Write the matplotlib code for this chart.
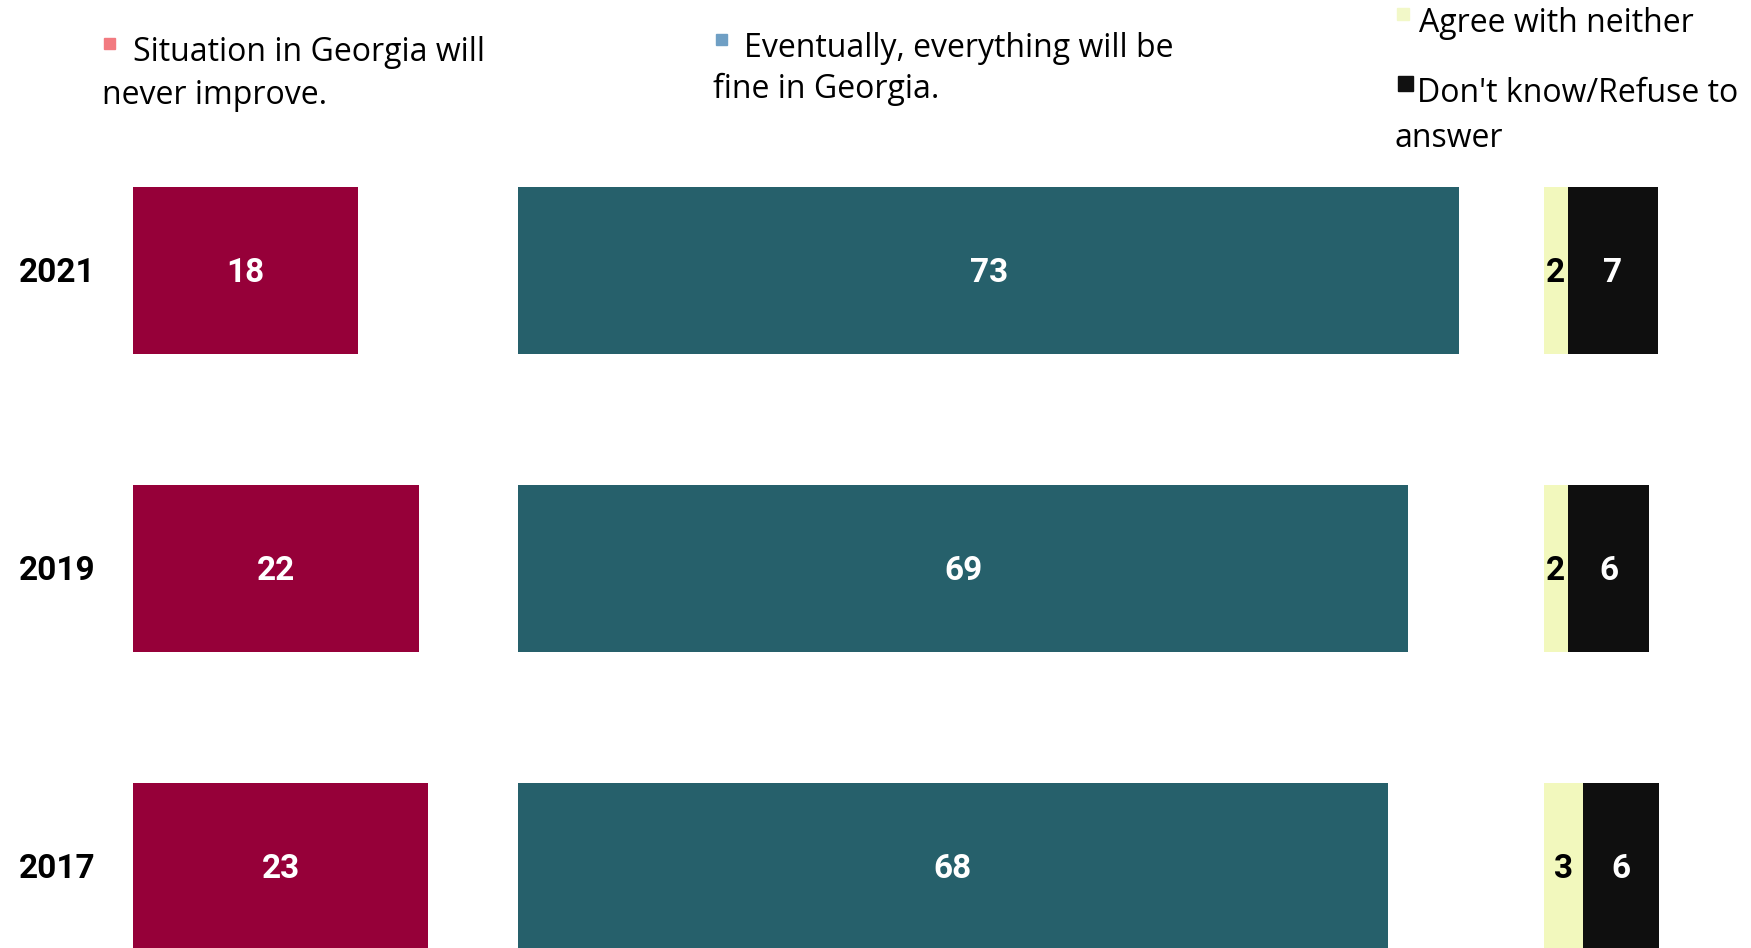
import matplotlib.pyplot as plt
from matplotlib.patches import Rectangle

plt.rcParams['font.family'] = ['Roboto', 'DejaVu Sans']

years = ['2021', '2019', '2017']
never_improve = [17.5, 22.3, 23.0]
will_be_fine = [73.3, 69.3, 67.7]
neither = [1.9, 1.9, 3.1]
dont_know = [7.0, 6.3, 5.9]

never_lbl = ['18', '22', '23']
fine_lbl = ['73', '69', '68']
neither_lbl = ['2', '2', '3']
dk_lbl = ['7', '6', '6']

c_red = '#960039'
c_teal = '#26606b'
c_yellow = '#f2f8bd'
c_black = '#0f0f0f'

W, H = 1751, 948
fig = plt.figure(figsize=(W / 100, H / 100), dpi=100)
ax = fig.add_axes([0, 0, 1, 1])
ax.set_xlim(-10.35, 126.0)
ax.set_ylim(-0.273, 2.908)
ax.axis('off')

ypos = [2, 1, 0]
bh = 0.558
off_fine = 30
off_rest = 109.85

ax.barh(ypos, never_improve, height=bh, left=0, color=c_red)
ax.barh(ypos, will_be_fine, height=bh, left=off_fine, color=c_teal)
ax.barh(ypos, neither, height=bh, left=off_rest, color=c_yellow)
left_dk = [off_rest + n for n in neither]
ax.barh(ypos, dont_know, height=bh, left=left_dk, color=c_black)

fs = 24
dy = -0.008
for i, y in enumerate(ypos):
    ax.text(-2.9, y + dy, years[i], ha='right', va='center', fontsize=fs,
            fontweight='bold', color='black')
    ax.text(never_improve[i] / 2, y + dy, never_lbl[i], ha='center', va='center',
            fontsize=fs, fontweight='bold', color='white')
    ax.text(off_fine + will_be_fine[i] / 2, y + dy, fine_lbl[i], ha='center',
            va='center', fontsize=fs, fontweight='bold', color='white')
    ax.text(off_rest + neither[i] / 2, y + dy, neither_lbl[i], ha='center',
            va='center', fontsize=fs, fontweight='bold', color='black')
    ax.text(left_dk[i] + dont_know[i] / 2, y + dy, dk_lbl[i], ha='center',
            va='center', fontsize=fs, fontweight='bold', color='white')

# legend, placed in pixel positions
legend_lines = [
    ('Situation in Georgia will', 'never improve.'),
    ('Eventually, everything will be', 'fine in Georgia.'),
    ('Agree with neither', ''),
    ("Don't know/Refuse to", 'answer'),
]
legend_colors = ['#f27a80', '#6f9fc4', '#f2f8c8', '#111111']
# marker box (x0, y0, size), text x line1, baseline1, text x line2, baseline2
legend_pos = [
    (104, 38, 11, 133, 61, 102, 104),
    (716, 34, 11, 744, 57, 713, 98),
    (1397, 8, 12, 1419, 32, 1395, 75),
    (1398, 76, 15, 1417, 102, 1394, 147),
]
lfs = 23
for (l1, l2), col, (mx, my, ms, tx1, ty1, tx2, ty2) in zip(legend_lines, legend_colors, legend_pos):
    fig.patches.append(Rectangle((mx / W, 1 - (my + ms) / H), ms / W, ms / H,
                                 transform=fig.transFigure, color=col))
    fig.text(tx1 / W, 1 - ty1 / H, l1, ha='left', va='baseline', fontsize=lfs,
             family=['Open Sans', 'DejaVu Sans'])
    if l2:
        fig.text(tx2 / W, 1 - ty2 / H, l2, ha='left', va='baseline', fontsize=lfs,
                 family=['Open Sans', 'DejaVu Sans'])

fig.savefig('out.png', dpi=100)
